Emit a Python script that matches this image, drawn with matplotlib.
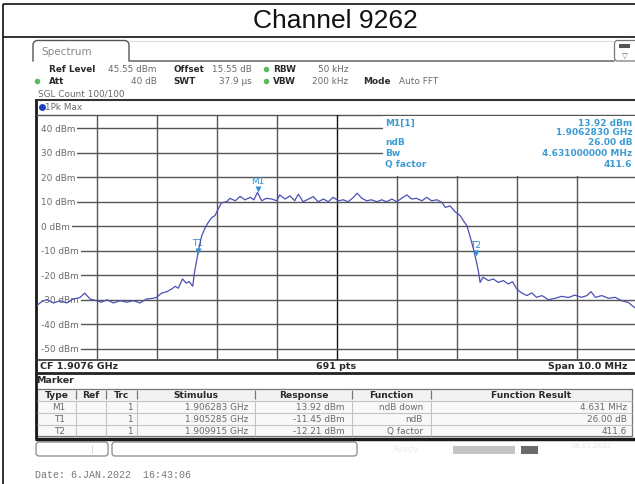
import matplotlib
matplotlib.use("Agg")
import matplotlib.pyplot as plt
from matplotlib.patches import Rectangle, FancyBboxPatch
from matplotlib.transforms import blended_transform_factory, ScaledTranslation

# ---------------- data ----------------
center_ghz = 1.9076
span_mhz = 10.0
ref_level_dbm = 45.55
range_db = 100.0
y_tick_dbm = [40, 30, 20, 10, 0, -10, -20, -30, -40, -50]
x_grid_mhz = [-4, -3, -2, -1, 0, 1, 2, 3, 4]

trace_offset_mhz = [
    -5.00, -4.92, -4.83, -4.72, -4.61, -4.50, -4.39, -4.28, -4.20, -4.11,
    -4.00, -3.92, -3.83, -3.72, -3.61, -3.50, -3.39, -3.28, -3.17, -3.06,
    -3.00, -2.92, -2.83, -2.75, -2.69, -2.64, -2.57, -2.51, -2.46, -2.40,
    -2.37, -2.33, -2.30, -2.25, -2.19, -2.14, -2.08, -2.03, -1.97, -1.92,
    -1.83, -1.78, -1.69, -1.61, -1.53, -1.44, -1.38, -1.32, -1.25, -1.17,
    -1.08, -1.00, -0.95, -0.86, -0.78, -0.70, -0.64, -0.56, -0.47, -0.39,
    -0.31, -0.22, -0.14, -0.06, 0.03, 0.11, 0.19, 0.28, 0.34, 0.42,
    0.50, 0.58, 0.67, 0.75, 0.83, 0.92, 1.00, 1.08, 1.17, 1.25,
    1.33, 1.42, 1.50, 1.58, 1.67, 1.75,
    1.81, 1.89, 1.97, 2.06, 2.11, 2.17, 2.22, 2.28, 2.33, 2.36,
    2.39, 2.44, 2.53, 2.61, 2.69, 2.78, 2.86, 2.93,
    3.00, 3.08, 3.17, 3.25, 3.33, 3.42, 3.53, 3.64, 3.75, 3.86,
    3.97, 4.08, 4.17, 4.24, 4.31, 4.42, 4.53, 4.64, 4.75, 4.86,
    4.96, 5.00,
]
trace_dbm = [
    -32.3, -30.7, -29.9, -31.2, -30.3, -31.2, -29.6, -29.0, -27.2, -29.6,
    -30.3, -30.9, -29.9, -31.2, -30.3, -30.9, -30.3, -31.2, -29.6, -29.3,
    -28.9, -27.2, -26.6, -25.5, -24.4, -25.2, -21.4, -23.1, -22.5, -24.4,
    -18.7, -13.3, -9.2, -3.8, -0.4, 1.7, 3.7, 4.4, 7.4, 9.6,
    10.2, 11.5, 10.5, 12.3, 10.9, 11.9, 10.9, 13.9, 10.5, 11.5,
    11.2, 10.5, 12.9, 11.2, 12.5, 10.5, 13.2, 10.1, 11.2, 12.2,
    10.1, 11.2, 10.1, 11.9, 10.5, 10.9, 10.1, 11.9, 13.6, 11.5,
    10.5, 10.9, 10.1, 10.9, 10.1, 11.2, 10.1, 11.5, 12.9, 11.2,
    11.5, 10.5, 11.9, 10.5, 10.9, 9.9,
    7.8, 8.4, 6.1, 4.4, 2.4, 0.3, -3.8, -9.2, -14.6, -18.0,
    -22.8, -20.7, -22.1, -21.4, -22.8, -22.1, -23.5, -22.5,
    -25.5, -27.1, -28.2, -27.1, -28.9, -28.2, -29.9, -29.3, -28.5, -29.0,
    -28.0, -28.9, -28.2, -26.6, -28.9, -28.2, -29.3, -28.9, -30.3, -31.0,
    -33.0, -33.2,
]

marker_names = ["M1", "T1", "T2"]
marker_freq_ghz = [1.906283, 1.905285, 1.909915]
marker_dbm = [13.92, -11.45, -12.21]

table_header = ["Type", "Ref", "Trc", "Stimulus", "Response", "Function", "Function Result"]
table_rows = [
    ["M1", "", "1", "1.906283 GHz", "13.92 dBm", "ndB down", "4.631 MHz"],
    ["T1", "", "1", "1.905285 GHz", "-11.45 dBm", "ndB", "26.00 dB"],
    ["T2", "", "1", "1.909915 GHz", "-12.21 dBm", "Q factor", "411.6"],
]

info_labels = ["M1[1]", "", "ndB", "Bw", "Q factor"]
info_values = ["13.92 dBm", "1.9062830 GHz", "26.00 dB", "4.631000000 MHz", "411.6"]

# ---------------- figure ----------------
W, H = 635, 485
fig = plt.figure(figsize=(W / 100, H / 100), dpi=100)
fig.patch.set_facecolor("white")

bg = fig.add_axes([0, 0, 1, 1], zorder=0)
bg.set_xlim(0, W)
bg.set_ylim(H, 0)
bg.axis("off")

top = fig.add_axes([0, 0, 1, 1], zorder=3)
top.set_xlim(0, W)
top.set_ylim(H, 0)
top.axis("off")
top.patch.set_alpha(0)

SF = "DejaVu Sans"
GREY = "#6a6a6a"
DARK = "#2a2a2a"
BLUE_TXT = "#3d9bd4"
MK = "#2f8fcf"
TRACE = "#4b50b4"


def hline(ax, y, x0, x1, c="#333", lw=1.0):
    ax.plot([x0, x1], [y, y], color=c, lw=lw, solid_capstyle="butt")


def vline(ax, x, y0, y1, c="#333", lw=1.0):
    ax.plot([x, x], [y0, y1], color=c, lw=lw, solid_capstyle="butt")


# outer table border + title
hline(bg, 5, 2.5, W, c="#111", lw=1.2)
hline(bg, 38, 2.5, W, c="#111", lw=1.2)
vline(bg, 2.5, 5, H, c="#111", lw=1.2)
bg.text(335, 21.5, "Channel 9262", ha="center", va="center",
        fontsize=19, family="Liberation Sans", color="#111")

# tab
tab_x = [33, 33, 34.2, 36.5, 125.5, 127.8, 129, 129, 614]
tab_y = [62, 45, 42.7, 41.5, 41.5, 42.7, 45, 62, 62]
bg.plot(tab_x, tab_y, color="#555", lw=1.0)
hline(bg, 41.5, 129, 614, c="#ddd", lw=0.8)
bg.text(41, 52, "Spectrum", ha="left", va="center", fontsize=7.5, family=SF, color="#8a8a8a")
bg.add_patch(FancyBboxPatch((614.5, 41.5), 24, 20.5, boxstyle="round,pad=0,rounding_size=3",
                            fc="white", ec="#777", lw=0.9))
bg.add_patch(Rectangle((619, 45), 11, 4, fc="#555", ec="none"))
bg.text(624.5, 55.5, "\u25BD", ha="center", va="center", fontsize=5.5, family=SF, color="#666")

# header
FS = 6.4
bg.text(49, 70, "Ref Level", ha="left", va="center", fontsize=FS, weight="bold", family=SF, color=DARK)
bg.text(157, 70, "45.55 dBm", ha="right", va="center", fontsize=FS, family=SF, color=GREY)
bg.text(173, 70, "Offset", ha="left", va="center", fontsize=FS, weight="bold", family=SF, color=DARK)
bg.text(252, 70, "15.55 dB", ha="right", va="center", fontsize=FS, family=SF, color=GREY)
bg.plot([266], [70], "o", ms=4, color="#5cb85c", mec="none")
bg.text(273, 70, "RBW", ha="left", va="center", fontsize=FS, weight="bold", family=SF, color=DARK)
bg.text(348, 70, "50 kHz", ha="right", va="center", fontsize=FS, family=SF, color=GREY)

bg.plot([37], [82], "o", ms=4, color="#5cb85c", mec="none")
bg.text(49, 82, "Att", ha="left", va="center", fontsize=FS, weight="bold", family=SF, color=DARK)
bg.text(157, 82, "40 dB", ha="right", va="center", fontsize=FS, family=SF, color=GREY)
bg.text(173, 82, "SWT", ha="left", va="center", fontsize=FS, weight="bold", family=SF, color=DARK)
bg.text(252, 82, "37.9 \u00b5s", ha="right", va="center", fontsize=FS, family=SF, color=GREY)
bg.plot([266], [82], "o", ms=4, color="#5cb85c", mec="none")
bg.text(273, 82, "VBW", ha="left", va="center", fontsize=FS, weight="bold", family=SF, color=DARK)
bg.text(348, 82, "200 kHz", ha="right", va="center", fontsize=FS, family=SF, color=GREY)
bg.text(363, 82, "Mode", ha="left", va="center", fontsize=FS, weight="bold", family=SF, color=DARK)
bg.text(399, 82, "Auto FFT", ha="left", va="center", fontsize=FS, family=SF, color=GREY)
bg.text(38, 94, "SGL Count 100/100", ha="left", va="center", fontsize=FS, family=SF, color=GREY)

# display frame
hline(bg, 101, 35, W, c="#333", lw=1.5)
vline(bg, 35.5, 101, 440, c="#1a1a1a", lw=2.0)
bg.plot([41.5], [108], "o", ms=5, color="#1d3fc4", mec="none")
bg.text(45, 108, "1Pk Max", ha="left", va="center", fontsize=FS, family=SF, color=GREY)
hline(bg, 115.5, 36, W, c="#555", lw=1.0)
hline(bg, 361, 36, W, c="#333", lw=1.2)
bg.text(40, 367, "CF 1.9076 GHz", ha="left", va="center", fontsize=6.8, weight="bold", family=SF, color=DARK)
bg.text(336, 367, "691 pts", ha="center", va="center", fontsize=6.8, weight="bold", family=SF, color=DARK)
bg.text(627, 367, "Span 10.0 MHz", ha="right", va="center", fontsize=6.8, weight="bold", family=SF, color=DARK)
hline(bg, 373.5, 35, W, c="#222", lw=2.0)
bg.text(36, 381, "Marker", ha="left", va="center", fontsize=6.8, weight="bold", family=SF, color=DARK)

# marker table
col_edges = [37, 76, 106, 137, 255, 352, 431, 632]
row_edges = [389.5, 401.5, 413.5, 425.5, 437.0]
bg.add_patch(Rectangle((col_edges[0], row_edges[0]), col_edges[-1] - col_edges[0],
                       row_edges[1] - row_edges[0], fc="#f2f2f2", ec="none"))
bg.add_patch(Rectangle((col_edges[0], row_edges[1]), col_edges[-1] - col_edges[0],
                       row_edges[-1] - row_edges[1], fc="#f8f8f8", ec="none"))
for y in row_edges[1:-1]:
    hline(bg, y, col_edges[0], col_edges[-1], c="#c4c4c4", lw=0.8)
for x in col_edges[1:-1]:
    vline(bg, x, row_edges[0] + 1.5, row_edges[1] - 1.5, c="#777", lw=0.9)
    vline(bg, x, row_edges[1], row_edges[-1], c="#c4c4c4", lw=0.8)
bg.add_patch(Rectangle((col_edges[0], row_edges[0]), col_edges[-1] - col_edges[0],
                       row_edges[-1] - row_edges[0], fc="none", ec="#777", lw=0.9))
for i, h in enumerate(table_header):
    cx = (col_edges[i] + col_edges[i + 1]) / 2
    bg.text(cx, (row_edges[0] + row_edges[1]) / 2, h, ha="center", va="center",
            fontsize=6.6, weight="bold", family=SF, color=DARK)
right_pad = [11, 10, 4, 7, 7, 8, 5]
for r, row in enumerate(table_rows):
    yc = (row_edges[r + 1] + row_edges[r + 2]) / 2
    for i, v in enumerate(row):
        bg.text(col_edges[i + 1] - right_pad[i], yc, v, ha="right", va="center",
                fontsize=6.4, family=SF, color=GREY)
hline(bg, 439.5, 35, W, c="#1a1a1a", lw=2.5)

# status bar
bg.add_patch(FancyBboxPatch((36, 443), 72, 14, boxstyle="round,pad=0,rounding_size=3",
                            fc="white", ec="#888", lw=0.9))
vline(bg, 92, 446, 454, c="#ddd", lw=0.8)
bg.add_patch(FancyBboxPatch((112, 443), 245, 14, boxstyle="round,pad=0,rounding_size=3",
                            fc="white", ec="#888", lw=0.9))
bg.text(405, 450, "Ready", ha="center", va="center", fontsize=6, family=SF, color="#ececec")
bg.add_patch(Rectangle((453, 446.5), 62, 8, fc="#c4c4c4", ec="none"))
bg.add_patch(Rectangle((521, 446.5), 17, 8, fc="#6a6a6a", ec="none"))
bg.text(592, 446, "06.01.2022", ha="center", va="center", fontsize=5, family=SF, color="#e4e4e4")

# date
bg.text(35, 475, "Date: 6.JAN.2022  16:43:06", ha="left", va="center",
        fontsize=7.2, family="Liberation Mono", color="#777")

# ---------------- spectrum plot ----------------
x_left_px, x_w_px = 36.7, 600.0
y_top_px, y_h_px = 115.9, 245.0
ax = fig.add_axes([x_left_px / W, (H - y_top_px - y_h_px) / H, x_w_px / W, y_h_px / H], zorder=2)
ax.patch.set_visible(False)
ax.set_xlim(center_ghz - span_mhz / 2000, center_ghz + span_mhz / 2000)
ax.set_ylim(ref_level_dbm - range_db, ref_level_dbm)
ax.axis("off")

label_x = (41 - x_left_px) / x_w_px
for off in x_grid_mhz:
    ax.axvline(center_ghz + off / 1000, color="#111" if off == 0 else "#555",
               lw=1.0, zorder=1)
for yv in y_tick_dbm:
    ax.axhline(yv, xmin=label_x, color="#555", lw=1.0, zorder=1)

lab_tr = blended_transform_factory(ax.transAxes, ax.transData)
for yv in y_tick_dbm:
    ax.text(label_x, yv, f"{yv} dBm", transform=lab_tr,
            ha="left", va="center", fontsize=6.4, family=SF, color=GREY, zorder=2,
            bbox=dict(boxstyle="square,pad=0.2", fc="white", ec="none"))

freqs = [center_ghz + o / 1000 for o in trace_offset_mhz]
ax.plot(freqs, trace_dbm, color=TRACE, lw=0.9, zorder=3)

up = ScaledTranslation(0, 3.5 / 100, fig.dpi_scale_trans)
for name, f, v in zip(marker_names, marker_freq_ghz, marker_dbm):
    ax.plot([f], [v], marker="v", ms=5, color=MK, mec="none", zorder=4,
            transform=ax.transData + up)
    ax.annotate(name, (f, v), xytext=(0, 12), textcoords="offset pixels",
                ha="center", va="center", fontsize=6.4, family=SF, color=MK, zorder=2)

# info box (top right of plot)
top.add_patch(Rectangle((383, 116.5), 260, 60, fc="white", ec="none"))
info_y = [123, 133, 143, 154, 165]
for lab, val, y in zip(info_labels, info_values, info_y):
    if lab:
        top.text(385, y, lab, ha="left", va="center", fontsize=6.5, weight="bold",
                 family=SF, color=BLUE_TXT)
    top.text(632, y, val, ha="right", va="center", fontsize=6.5, weight="bold",
             family=SF, color=BLUE_TXT)

fig.savefig("out.png", dpi=100, facecolor="white")
